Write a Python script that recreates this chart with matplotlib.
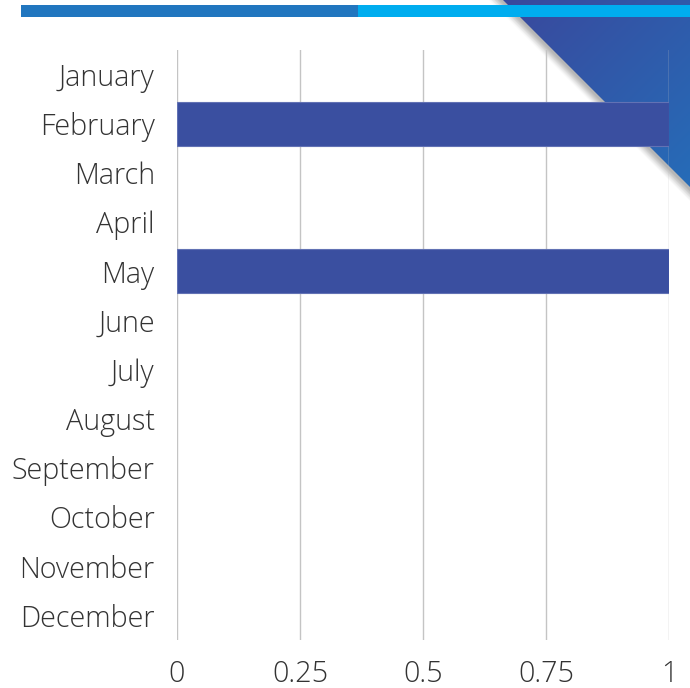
import matplotlib.pyplot as plt
import numpy as np
from matplotlib.patches import Polygon, Rectangle

months = ['January', 'February', 'March', 'April', 'May', 'June', 'July',
          'August', 'September', 'October', 'November', 'December']
values = [0, 1, 0, 0, 1, 0, 0, 0, 0, 0, 0, 0]
xticks = [0, 0.25, 0.5, 0.75, 1]
xtick_labels = ['0', '0.25', '0.5', '0.75', '1']

W, H = 690, 688
fig = plt.figure(figsize=(W / 100, H / 100), dpi=100)

# background decoration (pixel coordinates, y downwards)
deco = fig.add_axes([0, 0, 1, 1], zorder=0)
deco.set_xlim(0, W)
deco.set_ylim(H, 0)
deco.axis('off')

# soft shadow of the triangle
for i, a in enumerate(np.linspace(0.05, 0.22, 8)):
    off = 14 - i * 1.5
    deco.add_patch(Polygon([(503 - off, 0), (690, 0), (690, 187 + off)],
                           closed=True, facecolor='#9a9a9a', alpha=a,
                           edgecolor='none'))

tri = Polygon([(503, 0), (690, 0), (690, 187)], closed=True,
              facecolor='none', edgecolor='none')
deco.add_patch(tri)
gy, gx = np.mgrid[0:1:100j, 0:1:100j]
g = (gx + gy) / 2
c0 = np.array([0x3a, 0x48, 0x9c]) / 255
c1 = np.array([0x26, 0x6c, 0xb8]) / 255
img = c0[None, None, :] * (1 - g[..., None]) + c1[None, None, :] * g[..., None]
im = deco.imshow(img, extent=(503, 690, 187, 0), origin='upper',
                 aspect='auto', zorder=2)
im.set_clip_path(tri)

# top stripe
deco.add_patch(Rectangle((21, 5), 337, 11.5, facecolor='#2176bf',
                         edgecolor='none', zorder=3))
deco.add_patch(Rectangle((358, 5), 332, 11.5, facecolor='#00adef',
                         edgecolor='none', zorder=3))

# main chart
ax = fig.add_axes([177 / W, 1 - 640 / H, (669 - 177) / W, 590 / H], zorder=1)
ax.set_facecolor('none')
y = np.arange(len(months))
lw = [0.8 if v else 0 for v in values]
ax.barh(y, values, height=0.9, color='#3a4fa0', edgecolor='#6272b4',
        linewidth=lw, zorder=3)
ax.set_ylim(len(months) - 0.5, -0.5)
ax.set_xlim(0, 1)
ax.set_yticks(y)
ax.set_yticklabels(months)
ax.set_xticks(xticks)
ax.set_xticklabels(xtick_labels)
for s in ax.spines.values():
    s.set_visible(False)
ax.grid(axis='x', color='#c4c4c4', linewidth=1, zorder=1)
ax.tick_params(length=0, labelsize=20.7, labelcolor='#333333')
ax.tick_params(axis='y', pad=16)
ax.tick_params(axis='x', pad=14)
for lab in ax.get_xticklabels() + ax.get_yticklabels():
    lab.set_fontfamily(['Open Sans', 'DejaVu Sans'])
    lab.set_fontweight('light')

fig.savefig('out.png', dpi=100)
